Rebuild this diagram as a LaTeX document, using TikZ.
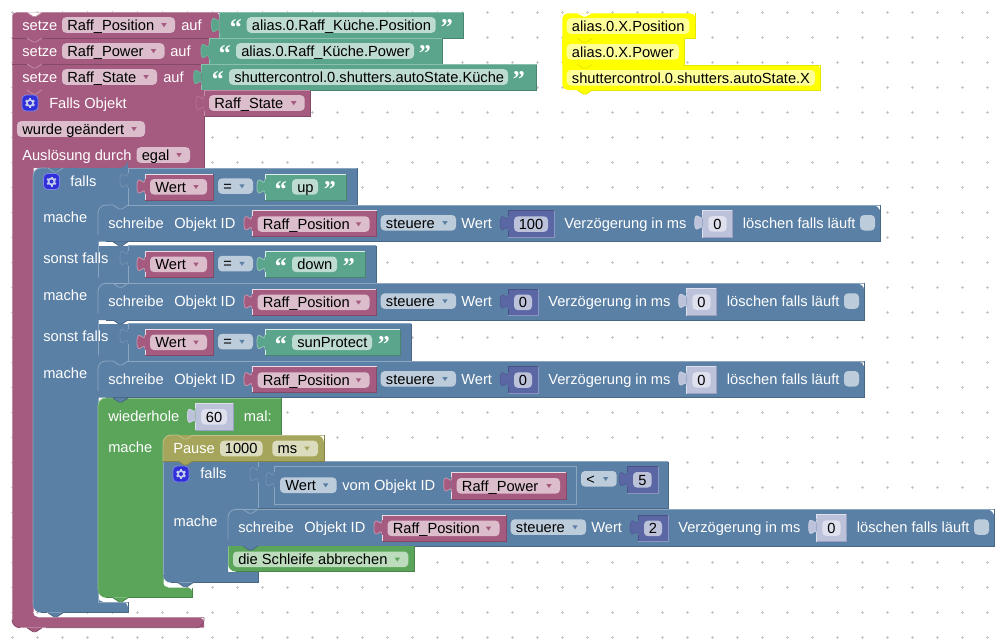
\documentclass[tikz,border=0pt]{standalone}
\usepackage{fontspec}
\setmainfont[Ligatures=CommonOff]{Liberation Sans}
\newfontfamily\qfont{Liberation Serif}
\definecolor{pur}{HTML}{A55B80}\definecolor{purD}{HTML}{844966}\definecolor{purL}{HTML}{C08CA6}\definecolor{purP}{HTML}{DBBDCC}\definecolor{purH}{HTML}{EBDCE4}
\definecolor{blu}{HTML}{5B80A5}\definecolor{bluD}{HTML}{496684}\definecolor{bluL}{HTML}{8CA6C0}\definecolor{bluP}{HTML}{BDCCDB}
\definecolor{grn}{HTML}{5BA58C}\definecolor{grnD}{HTML}{498470}\definecolor{grnL}{HTML}{8CC0AE}\definecolor{grnP}{HTML}{BDDBD1}\definecolor{grnH}{HTML}{DCEEE8}
\definecolor{lop}{HTML}{5BA55B}\definecolor{lopD}{HTML}{498449}\definecolor{lopL}{HTML}{8CC08C}\definecolor{lopP}{HTML}{BDDBBD}
\definecolor{oli}{HTML}{A5A55B}\definecolor{oliD}{HTML}{848449}\definecolor{oliL}{HTML}{C0C08C}\definecolor{oliP}{HTML}{DBDBBD}
\definecolor{num}{HTML}{5B67A5}\definecolor{numD}{HTML}{495284}\definecolor{numL}{HTML}{8C95C0}\definecolor{numP}{HTML}{BDC2DB}
\definecolor{shd}{HTML}{BDC2DB}\definecolor{shdD}{HTML}{9AA0BE}\definecolor{shdL}{HTML}{DEE0ED}\definecolor{shdP}{HTML}{DEE0ED}
\definecolor{yel}{HTML}{FFFF00}\definecolor{yelD}{HTML}{E6E600}\definecolor{yelP}{HTML}{FFFF99}
\definecolor{gearC}{HTML}{3030D8}\definecolor{gearE}{HTML}{7F85E8}\definecolor{gearT}{HTML}{C4CCEE}
\newcounter{txt}
\tikzset{
  x=0.75pt,y=-0.75pt,
  hair/.style={line width=0.6pt},
  lab/.style={anchor=base west,inner sep=0pt,text=white,yshift=-0.45pt,font=\fontsize{11pt}{13pt}\selectfont},
  blk/.style={anchor=base west,inner sep=0pt,text=black,yshift=-0.3pt,font=\fontsize{11pt}{13pt}\selectfont},
  ctr/.style={anchor=base,inner sep=0pt,text=black,yshift=-0.3pt,font=\fontsize{11pt}{13pt}\selectfont},
  quo/.style={anchor=base west,inner sep=0pt,text=white,font=\qfont\bfseries\fontsize{18pt}{20pt}\selectfont},
}
% label text on a block
\newcommand{\lbl}[3]{\stepcounter{txt}\node[lab] (t\arabic{txt}) at (#1,#2) {#3};}
% editable field: x1, x2, top, text, fill
\newcommand{\pill}[5]{\fill[#5,rounded corners=3pt] (#1,#3) rectangle (#2,#3+15.6);
  \stepcounter{txt}\node[blk] (t\arabic{txt}) at (#1+5,#3+12.7) {#4};}
% number field with centred text
\newcommand{\npill}[5]{\fill[#5,rounded corners=3pt] (#1,#3) rectangle (#2,#3+15.6);
  \stepcounter{txt}\node[ctr] (t\arabic{txt}) at ({(#1+#2)/2},#3+12.7) {#4};}
% dropdown field: x1, x2, top, text, fill, arrow colour
\newcommand{\ddown}[6]{\pill{#1}{#2}{#3}{#4}{#5}
  \fill[#6] (#2-13.7,#3+6) -- (#2-8.3,#3+6) -- (#2-11,#3+10) -- cycle;}
% left-hand puzzle tab of a value block
\newcommand{\tabpath}[2]{(#1,#2+5) .. controls (#1,#2+15) and (#1-8,#2-3) .. (#1-8,#2+12.5) .. controls (#1-8,#2+28) and (#1,#2+10) .. (#1,#2+20)}
% value block: x1, y1, x2, y2, fill, light edge, dark edge
\newcommand{\vblock}[7]{\fill[#5] \tabpath{#1}{#2} -- cycle;
  \draw[hair,#6!45!#5] \tabpath{#1}{#2};
  \fill[#5] (#1,#2) rectangle (#3,#4);
  \draw[hair,#6] (#1,#4) -- (#1,#2+20) (#1,#2+5) -- (#1,#2) -- (#3,#2);
  \draw[hair,#7] (#3,#2) -- (#3,#4) -- (#1,#4);}
% notch outline on a block's upper edge and connection tab under a block
\newcommand{\tnotch}[3]{\draw[hair,#3] (#1+15,#2) -- (#1+21,#2+4) -- (#1+24,#2+4) -- (#1+30,#2);}
\newcommand{\btab}[4]{\fill[#3] (#1+15,#2) -- (#1+21,#2+4) -- (#1+24,#2+4) -- (#1+30,#2) -- cycle;
  \draw[hair,#4] (#1+15,#2) -- (#1+21,#2+4) -- (#1+24,#2+4) -- (#1+30,#2);}
% cog button of mutator blocks
\newcommand{\cog}[2]{\fill[gearC,draw=gearE,hair,rounded corners=3pt] (#1-8,#2-8) rectangle (#1+8,#2+8);
  \foreach \a in {30,90,...,330}{\draw[gearT,line width=1.5pt] (#1,#2) -- ++(\a:5);}
  \fill[gearT] (#1,#2) circle[radius=4];
  \fill[gearC] (#1,#2) circle[radius=2];}
% opening and closing quotation marks of a string block
\newcommand{\qL}[2]{\stepcounter{txt}\node[quo] (t\arabic{txt}) at (#1,#2+23) {“};}
\newcommand{\qR}[2]{\stepcounter{txt}\node[quo] (t\arabic{txt}) at (#1,#2+23) {”};}
% comparison row: top, green right edge, block right edge, text, pill right, closing quote x
\newcommand{\cmprow}[6]{
  \vblock{128}{#1}{#3}{#1+37.5}{blu}{bluL}{bluD}
  \vblock{145}{#1+6}{213}{#1+32}{pur}{purH}{purD}
  \ddown{150}{207}{#1+11}{Wert}{purP}{pur}
  \ddown{218}{253}{#1+10.3}{=}{bluP}{blu}
  \vblock{265}{#1+6}{#2}{#1+32}{grn}{grnH}{grnD}
  \qL{274.5}{#1+6}
  \pill{292}{#5}{#1+11}{#4}{grnP}
  \qR{#6}{#1+6}
}
% "schreibe" statement: left, top, extra width of the number, number text
\newcommand{\schreibe}[4]{
  \def\X{#1}\def\Y{#2}\def\D{#3}
  \fill[blu] (\X,\Y) -- (\X+8,\Y) -- (\X,\Y+8) -- cycle;
  \fill[blu,rounded corners=6pt] (\X,\Y) -- (\X+766.3+\D,\Y) [sharp corners] -- (\X+766.3+\D,\Y+36.7) -- (\X,\Y+36.7) [rounded corners=6pt] -- (\X,\Y) -- cycle;
  \draw[hair,bluL,rounded corners=6pt] (\X,\Y+30) -- (\X,\Y) -- (\X+15,\Y);
  \draw[hair,bluL] (\X+30,\Y) -- (\X+766.3+\D,\Y);
  \tnotch{\X}{\Y}{bluL}
  \draw[hair,bluD] (\X+766.3+\D,\Y) -- (\X+766.3+\D,\Y+36.7) -- (\X+8,\Y+36.7);
  \lbl{\X+10}{\Y+22.7}{schreibe}
  \lbl{\X+76}{\Y+22.7}{Objekt ID}
  \vblock{\X+154}{\Y+5.7}{\X+278.5}{\Y+31.7}{pur}{purH}{purD}
  \ddown{\X+159.5}{\X+271.5}{\Y+11.3}{Raff\_Position}{purP}{pur}
  \ddown{\X+282.7}{\X+358}{\Y+10}{steuere}{bluP}{blu}
  \lbl{\X+363}{\Y+22.7}{Wert}
  \vblock{\X+410.3}{\Y+5.7}{\X+440+\D}{\Y+32}{num}{numD}{numL}
  \npill{\X+416}{\X+434+\D}{\Y+11.3}{#4}{numP}
  \lbl{\X+450+\D}{\Y+22.7}{Verzögerung in ms}
  \vblock{\X+588.7+\D}{\Y+5}{\X+618.7+\D}{\Y+32.5}{shd}{shdL}{shdD}
  \npill{\X+594.3+\D}{\X+612.7+\D}{\Y+11}{0}{shdP}
  \lbl{\X+628.7+\D}{\Y+22.7}{löschen falls läuft}
  \fill[bluP,rounded corners=3pt] (\X+746+\D,\Y+10) rectangle (\X+761+\D,\Y+25.5);
}
\begin{document}
\begin{tikzpicture}
\useasboundingbox (0,0) rectangle (1006,639);
\fill[white] (0,0) rectangle (1006,639);
% workspace grid
\foreach \gx in {12,37,...,987}{\foreach \gy in {12,37,...,637}{
  \draw[black!22,line width=0.6pt] (\gx-1.5,\gy) -- (\gx+1.5,\gy) (\gx,\gy-1.5) -- (\gx,\gy+1.5);}}

% ---- variable assignments ----
\fill[pur,rounded corners=3pt] (12,38) -- (12,12.5) -- (219.5,12.5) [sharp corners] -- (219.5,38) -- cycle;
\fill[white] (27,12.5) -- (33,16.5) -- (36,16.5) -- (42,12.5) -- cycle;
\draw[hair,purL] (12,38) -- (12,16) (16,12.5) -- (27,12.5) (42,12.5) -- (219.5,12.5);
\draw[hair,purL] (27,12.5) -- (33,16.5) -- (36,16.5) -- (42,12.5);
\fill[pur] (12,38) rectangle (209,64);
\fill[pur] (12,64) rectangle (201.7,90);
\draw[hair,purL] (12,38) -- (12,90);
\draw[hair,purD] (12,38) -- (219.5,38) (12,64) -- (209,64) (12,90) -- (201.7,90);
\vblock{219.5}{12.5}{463.7}{38}{grn}{grnL}{grnD}
\vblock{209}{38.5}{442}{64}{grn}{grnL}{grnD}
\vblock{201.7}{64.5}{536.5}{90}{grn}{grnL}{grnD}
\lbl{22}{30}{setze}\ddown{62}{175}{17.2}{Raff\_Position}{purP}{pur}\lbl{181}{30}{auf}
\qL{229.5}{12.5}\pill{246.7}{435.7}{17.2}{alias.0.Raff\_Küche.Position}{grnP}\qR{440.5}{12.5}
\lbl{22}{56}{setze}\ddown{62}{164.5}{43.2}{Raff\_Power}{purP}{pur}\lbl{170}{56}{auf}
\qL{218.5}{38.5}\pill{236}{414}{43.2}{alias.0.Raff\_Küche.Power}{grnP}\qR{418.5}{38.5}
\lbl{22}{82}{setze}\ddown{62}{157}{69.2}{Raff\_State}{purP}{pur}\lbl{163}{82}{auf}
\qL{211.5}{64.5}\pill{229}{508}{69.2}{shuttercontrol.0.shutters.autoState.Küche}{grnP}\qR{512.5}{64.5}

% ---- trigger block ----
\fill[pur] (12,90) -- (204,90) -- (204,168) -- (33,168) [rounded corners=4pt] -- (33,617.3) -- (204,617.3) [sharp corners] -- (204,627.7) [rounded corners=6pt] -- (12,627.7) [sharp corners] -- cycle;
\draw[hair,purL] (12,90) -- (12,620) (33,168) -- (33,612);
\draw[hair,purD,rounded corners=6pt] (204,617.3) -- (204,627.7) -- (46,627.7) (20,627.7) -- (12,627.7) -- (12,620);
\draw[hair,purL] (40,617.3) -- (204,617.3);
\draw[hair,purD] (204,90) -- (204,168);
\vblock{204}{90.5}{310}{116}{pur}{purL}{purD}
\ddown{209}{304.7}{95.2}{Raff\_State}{purP}{pur}
\cog{30}{103}
\lbl{49}{108}{Falls Objekt}
\ddown{17}{145}{121.2}{wurde geändert}{purP}{pur}
\lbl{22}{160}{Auslösung durch}
\ddown{136.5}{190}{147.2}{egal}{purP}{pur}
\btab{12}{627.7}{pur}{purD}
\btab{12}{38}{pur}{purL}\btab{12}{64}{pur}{purL}\btab{12}{90}{pur}{purL}

% ---- outer condition block ----
\fill[blu] (128,168) -- (128,205) -- (98,205) [rounded corners=4pt] -- (98,602) -- (128,602) [sharp corners] -- (128,612.7) [rounded corners=6pt] -- (33,612.7) -- (33,168) -- (128,168) -- cycle;
\fill[blu] (98,245.5) rectangle (128,283.3);
\fill[blu] (98,323.5) rectangle (128,361);
\draw[hair,bluL,rounded corners=6pt] (33,606) -- (33,168) -- (47,168);
\draw[hair,bluD] (128,602) -- (128,612.7) -- (63,612.7) (47,612.7) -- (41,612.7);
\draw[hair,bluL] (98,205) -- (98,602) -- (128,602);
\tnotch{33}{168}{bluL}
\cmprow{168}{346}{357}{up}{318}{323.5}
\cmprow{245.5}{365}{376}{down}{337}{342.5}
\cmprow{323.5}{400}{411}{sunProtect}{372}{377.5}
\cog{51.5}{181.5}
\lbl{70}{186}{falls}
\lbl{43}{221.7}{mache}
\lbl{43}{263.3}{sonst falls}
\lbl{43}{299.7}{mache}
\lbl{43}{341.3}{sonst falls}
\lbl{43}{377.7}{mache}
\schreibe{98}{205}{16}{100}
\schreibe{98}{283.3}{0}{0}
\schreibe{98}{361}{0}{0}
\btab{98}{241.7}{blu}{bluD}
\btab{98}{320}{blu}{bluD}

% ---- repeat loop ----
\fill[lop] (281.7,398) -- (281.7,435) -- (163,435) [rounded corners=4pt] -- (163,587.5) -- (192.7,587.5) [sharp corners] -- (192.7,597.7) [rounded corners=6pt] -- (98,597.7) -- (98,398) [sharp corners] -- cycle;
\draw[hair,lopL,rounded corners=6pt] (98,590) -- (98,398) -- (113,398);
\draw[hair,lopL] (128,398) -- (281.7,398);
\draw[hair,lopD] (281.7,398) -- (281.7,435) (192.7,587.5) -- (192.7,597.7) -- (128,597.7) (113,597.7) -- (106,597.7);
\draw[hair,lopL] (163,440) -- (163,583);
\btab{98}{398}{blu}{bluD}
\lbl{108}{420.7}{wiederhole}
\vblock{195.5}{403.3}{233.7}{430}{shd}{shdL}{shdD}
\npill{201}{227}{409}{60}{shdP}
\lbl{243.7}{420.7}{mal:}
\lbl{108}{451.7}{mache}
\btab{98}{597.7}{lop}{lopD}
\btab{33}{612.7}{blu}{bluD}

% ---- inner condition block ----
\fill[blu] (163,461) -- (258,461) -- (258,509) -- (228,509) -- (228,572) -- (258,572) -- (258,582.7) [rounded corners=6pt] -- (163,582.7) [sharp corners] -- cycle;
\draw[hair,bluL] (163,461) -- (163,575);
\draw[hair,bluD] (258,572) -- (258,582.7) -- (193,582.7) (178,582.7) -- (171,582.7);
\vblock{258}{461.5}{668.3}{508.5}{blu}{bluL}{bluD}
\vblock{274}{466.7}{576.7}{504.3}{blu}{bluL}{bluL}
\ddown{280}{336.7}{477.4}{Wert}{bluP}{blu}
\lbl{342}{490}{vom Objekt ID}
\vblock{451.7}{472}{566}{499}{pur}{purH}{purD}
\ddown{456.7}{560}{478}{Raff\_Power}{purP}{pur}
\ddown{581}{616.7}{471}{<}{bluP}{blu}
\vblock{627.3}{466.7}{658.3}{493.3}{num}{numD}{numL}
\npill{633}{651.7}{472}{5}{numP}
\cog{181}{474}
\lbl{200}{478.3}{falls}
\lbl{173.3}{525.7}{mache}
\schreibe{228}{509.3}{0}{2}

% ---- break block ----
\fill[lop] (228,546) -- (414,546) -- (414,571.7) [rounded corners=6pt] -- (228,571.7) [sharp corners] -- cycle;
\draw[hair,lopD] (414,546) -- (414,571.7) -- (236,571.7);
\draw[hair,lopL] (228,546) -- (228,565);
\btab{228}{546}{blu}{bluD}
\ddown{233}{408.3}{551.5}{die Schleife abbrechen}{lopP}{lop}
\btab{163}{582.7}{blu}{bluD}

% ---- pause block ----
\fill[lop] (163,435) rectangle (171,443);
\fill[oli,rounded corners=6pt] (163,461) -- (163,435) -- (324,435) [sharp corners] -- (324,461) -- cycle;
\draw[hair,oliL,rounded corners=6pt] (163,461) -- (163,435) -- (178,435);
\draw[hair,oliL] (193,435) -- (324,435);
\tnotch{163}{435}{oliL}
\draw[hair,oliD] (324,435) -- (324,461) -- (163,461);
\btab{163}{461}{oli}{oliD}
\lbl{173}{452.7}{Pause}
\npill{220}{262.5}{440.7}{1000}{oliP}
\ddown{272.3}{318}{440.7}{ms}{oliP}{oli}

% ---- yellow string stack ----
\fill[yel,rounded corners=4pt] (562.3,38.3) -- (562.3,13.3) -- (695.7,13.3) [sharp corners] -- (695.7,38.3) -- cycle;
\fill[yel] (562.3,38.3) rectangle (684.3,65);
\fill[yel,rounded corners=4pt] (562.3,65) -- (820.7,65) [sharp corners] -- (820.7,90) [rounded corners=4pt] -- (562.3,90) [sharp corners] -- cycle;
\fill[white] (577,13.3) -- (583,16.5) -- (586,16.5) -- (592,13.3) -- cycle;
\draw[hair,yelD] (695.7,13.3) -- (695.7,38.3) -- (684.3,38.3) -- (684.3,65) -- (820.7,65) -- (820.7,90) -- (592,90);
\btab{562.3}{90}{yel}{yelD}
\btab{562.3}{38.3}{yel}{yelD}
\btab{562.3}{64.3}{yel}{yelD}
\pill{566.7}{689.3}{18.2}{alias.0.X.Position}{yelP}
\pill{566.7}{679}{44}{alias.0.X.Power}{yelP}
\pill{566.7}{815}{70}{shuttercontrol.0.shutters.autoState.X}{yelP}
\end{tikzpicture}
\end{document}
